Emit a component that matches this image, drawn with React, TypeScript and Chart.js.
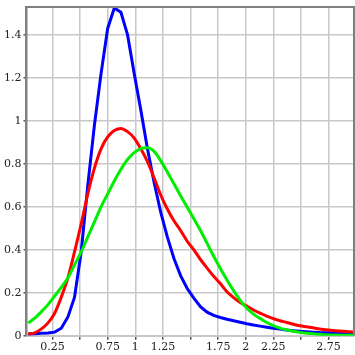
import React, { useEffect, useRef } from "react";
import { Chart, registerables } from "chart.js";

Chart.register(...registerables);

const xs = [0.03, 0.09, 0.15, 0.21, 0.27, 0.33, 0.39, 0.45, 0.51, 0.57, 0.63, 0.69, 0.75, 0.81, 0.87, 0.93, 0.99, 1.05, 1.11, 1.17, 1.23, 1.29, 1.35, 1.41, 1.47, 1.53, 1.59, 1.65, 1.71, 1.77, 1.83, 1.89, 1.95, 2.01, 2.07, 2.13, 2.19, 2.25, 2.31, 2.37, 2.43, 2.49, 2.55, 2.61, 2.67, 2.73, 2.79, 2.85, 2.91, 2.97];

const blueSeries = [0.008, 0.01, 0.012, 0.013, 0.017, 0.035, 0.088, 0.18, 0.39, 0.7, 0.98, 1.22, 1.43, 1.525, 1.505, 1.4, 1.22, 1.05, 0.87, 0.715, 0.575, 0.46, 0.36, 0.28, 0.22, 0.175, 0.135, 0.11, 0.095, 0.085, 0.077, 0.07, 0.063, 0.056, 0.05, 0.045, 0.04, 0.035, 0.031, 0.027, 0.024, 0.021, 0.019, 0.017, 0.015, 0.014, 0.013, 0.013, 0.012, 0.012];

const redSeries = [0.008, 0.014, 0.032, 0.06, 0.105, 0.18, 0.27, 0.39, 0.52, 0.66, 0.78, 0.87, 0.925, 0.955, 0.965, 0.95, 0.92, 0.87, 0.81, 0.735, 0.655, 0.59, 0.535, 0.49, 0.44, 0.4, 0.355, 0.315, 0.277, 0.243, 0.205, 0.178, 0.155, 0.138, 0.12, 0.105, 0.092, 0.08, 0.07, 0.062, 0.054, 0.047, 0.042, 0.037, 0.032, 0.028, 0.025, 0.022, 0.02, 0.018];

const greenSeries = [0.06, 0.082, 0.112, 0.145, 0.185, 0.225, 0.27, 0.33, 0.39, 0.46, 0.53, 0.6, 0.66, 0.72, 0.775, 0.82, 0.852, 0.871, 0.875, 0.858, 0.815, 0.762, 0.707, 0.652, 0.598, 0.545, 0.49, 0.43, 0.37, 0.313, 0.26, 0.21, 0.165, 0.128, 0.101, 0.08, 0.062, 0.047, 0.036, 0.028, 0.021, 0.016, 0.012, 0.009, 0.007, 0.005, 0.004, 0.003, 0.003, 0.002];

const xTickLabels = ["0.25", "0.75", "1", "1.25", "1.75", "2", "2.25", "2.75"];

const framePlugin = {
  id: "frame",
  afterDraw(chart: any) {
    const { ctx, chartArea } = chart;
    const { left, right, top, bottom } = chartArea;
    ctx.save();
    ctx.strokeStyle = "#808080";
    ctx.lineWidth = 2;
    ctx.beginPath();
    ctx.moveTo(left, bottom);
    ctx.lineTo(left, top);
    ctx.lineTo(right, top);
    ctx.lineTo(right, bottom);
    ctx.stroke();
    ctx.restore();
  },
};

export default function App() {
  const ref = useRef<HTMLCanvasElement>(null);
  useEffect(() => {
    if (!ref.current) return;
    const mk = (arr: number[]) => xs.map((x, i) => ({ x, y: arr[i] }));
    const font = { family: "'DejaVu Serif', serif", size: 11 };
    const yFont = { family: "'DejaVu Serif', serif", size: 11, lineHeight: 0.9 };
    const chart = new Chart(ref.current, {
      type: "line",
      data: {
        datasets: [
          { data: mk(greenSeries), borderColor: "#00ee00", borderWidth: 3, pointRadius: 0, cubicInterpolationMode: "monotone", fill: false },
          { data: mk(redSeries), borderColor: "#ff0000", borderWidth: 3, pointRadius: 0, cubicInterpolationMode: "monotone", fill: false },
          { data: mk(blueSeries), borderColor: "#0000ff", borderWidth: 3, pointRadius: 0, tension: 0, fill: false },
        ],
      },
      options: {
        animation: false,
        responsive: false,
        layout: { padding: { left: 2, top: 1, right: 1, bottom: 0 } },
        plugins: { legend: { display: false }, tooltip: { enabled: false } },
        scales: {
          x: {
            type: "linear",
            min: 0.015,
            max: 2.98,
            grid: { color: "#c8c8c8", lineWidth: 1.5, tickColor: "#555", tickLength: 4 },
            border: { display: true, color: "#c8c8c8", width: 2 },
            ticks: {
              stepSize: 0.25,
              includeBounds: false,
              autoSkip: false,
              maxRotation: 0,
              padding: 1,
              color: "#222",
              font,
              callback: (v: any) => {
                const s = String(Math.round(Number(v) * 100) / 100);
                return xTickLabels.includes(s) ? s : "";
              },
            },
          },
          y: {
            type: "linear",
            min: 0,
            max: 1.53,
            grid: { color: "#c8c8c8", lineWidth: 1.5, tickColor: "#555", tickLength: 3 },
            border: { display: true, color: "#808080", width: 2 },
            ticks: {
              stepSize: 0.2,
              includeBounds: false,
              padding: 2,
              color: "#222",
              font: yFont,
              callback: (v: any) => String(Math.round(Number(v) * 10) / 10),
            },
          },
        },
      },
      plugins: [framePlugin],
    });
    return () => chart.destroy();
  }, []);
  return (
    <div style={{ position: "fixed", left: 0, top: 0, width: 355, height: 355, background: "#fff" }}>
      <canvas ref={ref} width={355} height={355} />
    </div>
  );
}
